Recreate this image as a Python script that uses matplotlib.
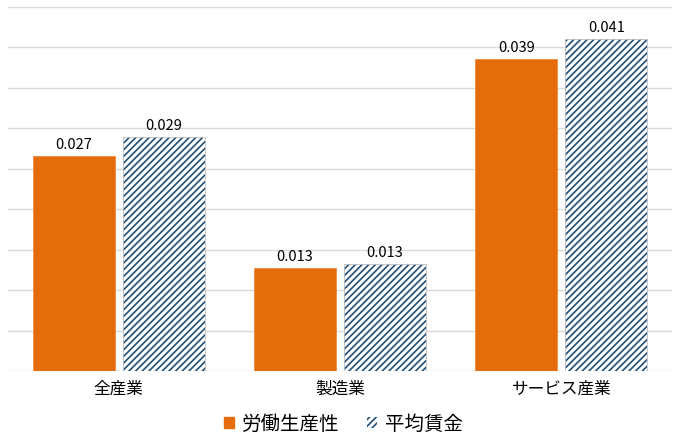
import matplotlib.pyplot as plt
import numpy as np
from matplotlib.patches import Patch

plt.rcParams['font.family'] = ['Noto Sans CJK JP', 'DejaVu Sans']
plt.rcParams['hatch.linewidth'] = 1.2

# データ
categories = ['全産業', '製造業', 'サービス産業']
productivity = [0.0266, 0.0127, 0.0386]
wages = [0.0289, 0.0132, 0.0410]
series_names = ['労働生産性', '平均賃金']

orange = '#E46C0A'
navy = '#1F4E79'

fig = plt.figure(figsize=(6.8, 4.38), dpi=100)
ax = fig.add_axes([8 / 680, 67 / 438, 664 / 680, 364 / 438])

x = np.arange(len(categories))
w = 0.371
off = w / 2 + 0.018

b1 = ax.bar(x - off, productivity, w, color=orange, edgecolor='#F08A3A', linewidth=0.6, zorder=3)
b2 = ax.bar(x + off, wages, w, color='white', edgecolor=navy, hatch='/////', linewidth=0, zorder=3)
ax.bar(x + off, wages, w, fill=False, edgecolor='#BFBFBF', linewidth=0.6, zorder=4)

for bars, vals in [(b1, productivity), (b2, wages)]:
    for r, v in zip(bars, vals):
        ax.annotate(f'{v:.3f}', (r.get_x() + r.get_width() / 2, v), xytext=(0, 3),
                    textcoords='offset points', ha='center', va='bottom', fontsize=10.5)

ax.set_xlim(-0.5, 2.5)
ax.set_ylim(0, 0.045)
ax.set_yticks(np.arange(0, 0.0451, 0.005))
ax.set_yticklabels([])
ax.tick_params(axis='y', length=0)
ax.tick_params(axis='x', length=0, pad=7)
ax.set_xticks(x)
ax.set_xticklabels(categories, fontsize=12)
ax.grid(axis='y', color='#D9D9D9', linewidth=1, zorder=0)
for s in ax.spines.values():
    s.set_visible(False)

handles = [Patch(facecolor=orange, edgecolor=orange),
           Patch(facecolor='white', edgecolor=navy, hatch='/////', linewidth=0)]
fig.legend(handles, series_names, loc='center', bbox_to_anchor=(0.505, 1 - 424 / 438),
           ncol=2, frameon=False, fontsize=14, handlelength=0.55, handleheight=0.55,
           handletextpad=0.4, columnspacing=1.4)

fig.savefig('out.png', dpi=100)
